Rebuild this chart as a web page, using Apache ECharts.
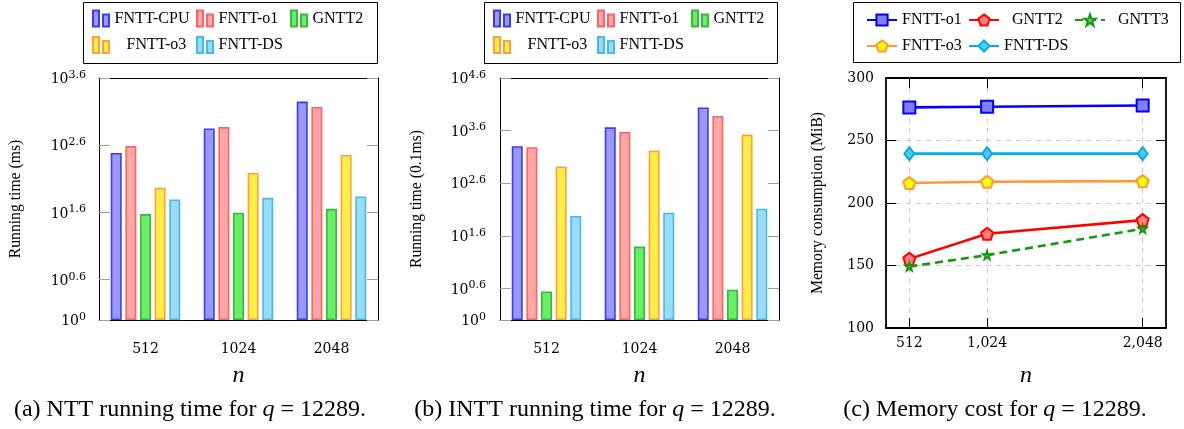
<!DOCTYPE html>
<html><head><meta charset="utf-8">
<script src="https://cdn.jsdelivr.net/npm/echarts@6/dist/echarts.min.js"></script>
<style>html,body{margin:0;padding:0;background:#fff}#c{width:1184px;height:429px}</style>
</head><body><div id="c"></div>
<script>
// ---------- data ----------
const categories = ['512', '1024', '2048'];
const barNames = ['FNTT-CPU', 'FNTT-o1', 'GNTT2', 'FNTT-o3', 'FNTT-DS'];
// (a) NTT running time (ms)
const nttCPU = [305, 706, 1774];
const nttO1 = [387, 740, 1480];
const nttGNTT2 = [37.6, 39.4, 45];
const nttO3 = [92.5, 154, 285];
const nttDS = [62, 65.7, 68.7];
// (b) INTT running time (0.1ms)
const inttCPU = [2006, 4600, 10990];
const inttO1 = [1922, 3758, 7550];
const inttGNTT2 = [3.49, 24.9, 3.76];
const inttO3 = [828, 1663, 3342];
const inttDS = [94.8, 109.7, 130.7];
// (c) Memory consumption (MiB)
const memN = [512, 1024, 2048];
const memO1 = [276.5, 277, 278];
const memGNTT2 = [155.3, 175.4, 186.3];
const memGNTT3 = [149.2, 158.3, 179.4];
const memO3 = [216, 217, 217.5];
const memDS = [239.5, 239.5, 239.5];
// tick labels
const nttTickExps = [0, 0.6, 1.6, 2.6, 3.6];
const inttTickExps = [0, 0.6, 1.6, 2.6, 3.6, 4.6];
const memXTicks = [512, 1024, 2048];

// ---------- styles ----------
const barStyles = [
  {fill: '#9999ff', border: '#3a3aff'},
  {fill: '#ffa6a6', border: '#ff6464'},
  {fill: '#66f066', border: '#3cb83c'},
  {fill: '#ffee44', border: '#ffa040'},
  {fill: '#9adcf6', border: '#44bbee'}
];
const SERIF = 'Liberation Serif';
const TICKF = 'DejaVu Serif';
const TICKSIZE = 14;
const pentagon = 'path://M0,-10L9.511,-3.09L5.878,8.09L-5.878,8.09L-9.511,-3.09Z';
const star = 'path://M0,-10L2.351,-3.236L9.511,-3.09L3.804,1.236L5.878,8.09L0,4L-5.878,8.09L-3.804,1.236L-9.511,-3.09L-2.351,-3.236Z';
const barIcon = 'path://M0,0H6V16H0ZM10,4H16V16H10Z';

const grids = [
  {left: 99, top: 78, width: 279, height: 242},
  {left: 500, top: 78, width: 279, height: 242},
  {left: 886, top: 78, width: 280, height: 250}
];

function supLabel(v) {
  const e = Math.round(Math.log10(v) * 10) / 10;
  return '{b|10}{s|' + e + '}';
}
const supRich = {
  b: {fontFamily: TICKF, fontSize: TICKSIZE, color: '#000', verticalAlign: 'bottom'},
  s: {fontFamily: TICKF, fontSize: 11, color: '#000', verticalAlign: 'bottom', padding: [0, 0, 6, 0]}
};

function logAxis(gi, exps, position, show, name, margin) {
  const last = exps.length - 1;
  const axisMax = Math.pow(10, exps[last]);
  // keep the top tick value a hair inside the extent so it is not dropped by rounding
  const vals = exps.map((e, i) => i === last ? axisMax * (1 - 1e-9) : Math.pow(10, e));
  return {
    type: 'log', logBase: 10, gridIndex: gi, position,
    min: 1, max: axisMax,
    axisLine: {show: true, lineStyle: {color: '#000', width: 1}},
    axisTick: {show: true, inside: true, length: 11, customValues: vals, lineStyle: {color: '#a0a0a0', width: 1}},
    axisLabel: {show: show, customValues: vals, margin: margin, formatter: supLabel, rich: supRich,
      showMaxLabel: true, showMinLabel: true, hideOverlap: false},
    splitLine: {show: false}, minorTick: {show: false}, minorSplitLine: {show: false},
    name: show ? name : '', nameLocation: 'middle', nameGap: 75,
    nameTextStyle: {fontFamily: SERIF, fontSize: 15.7, color: '#000'}
  };
}
function catAxis(gi, position, show) {
  return {
    type: 'category', data: categories, gridIndex: gi, position,
    axisLine: {lineStyle: {color: '#000', width: 1}},
    axisTick: {alignWithLabel: true, length: 11, lineStyle: {color: '#a0a0a0', width: 1}},
    axisLabel: {show: show, margin: 22, fontFamily: TICKF, fontSize: TICKSIZE, color: '#000'},
    name: show ? 'n' : '', nameLocation: 'middle', nameGap: 44,
    nameTextStyle: {fontFamily: SERIF, fontStyle: 'italic', fontSize: 24, color: '#000'}
  };
}

const nttData = [nttCPU, nttO1, nttGNTT2, nttO3, nttDS];
const inttData = [inttCPU, inttO1, inttGNTT2, inttO3, inttDS];
const series = [];
function addBars(dataList, xi, yi, suffix) {
  dataList.forEach((d, i) => {
    series.push({
      type: 'bar', name: barNames[i] + suffix, xAxisIndex: xi, yAxisIndex: yi, data: d,
      barWidth: 11, barGap: '33%',
      itemStyle: {color: barStyles[i].fill, borderColor: barStyles[i].border, borderWidth: 1.6}
    });
  });
}
addBars(nttData, 0, 0, '');
addBars(inttData, 2, 2, '\u200b');

const S2 = '\u200b\u200b';
function lineSeries(name, data, color, fill, symbol, size, dashed) {
  return {
    type: 'line', name: name + S2, xAxisIndex: 4, yAxisIndex: 4,
    data: memN.map((n, i) => [n, data[i]]),
    symbol, symbolSize: size, showSymbol: true,
    lineStyle: {color, width: 2.6, type: dashed ? [8, 5] : 'solid'},
    itemStyle: {color: fill, borderColor: color, borderWidth: 2}
  };
}
series.push(lineSeries('FNTT-o1', memO1, '#0000ff', '#8080ff', 'rect', 12, false));
series.push(lineSeries('GNTT2', memGNTT2, '#ff0000', '#ff8080', pentagon, 12, false));
series.push(lineSeries('GNTT3', memGNTT3, '#119911', '#55dd55', star, 8, true));
series.push(lineSeries('FNTT-o3', memO3, '#ff9933', '#ffff00', pentagon, 12, false));
series.push(lineSeries('FNTT-DS', memDS, '#00aeef', '#55c8f0', 'diamond', [10, 13], false));

function leg(name, left, top, extra) {
  return Object.assign({
    data: [name], left, top, orient: 'horizontal', padding: 0, itemGap: 0,
    selectedMode: false, itemWidth: 17, itemHeight: 16, icon: barIcon,
    textStyle: {fontFamily: SERIF, fontSize: 16, color: '#000'},
    formatter: n => n.replace(/\u200b/g, '')
  }, extra || {});
}
const legends = [];
[0, 401].forEach((dx, k) => {
  const sfx = k === 0 ? '' : '\u200b';
  legends.push(leg('FNTT-CPU' + sfx, 92 + dx, 9.5));
  legends.push(leg('FNTT-o1' + sfx, 196 + dx, 9.5));
  legends.push(leg('GNTT2' + sfx, 290 + dx, 9.5));
  legends.push(leg('FNTT-o3' + sfx, 92 + dx, 36, {formatter: n => '   ' + n.replace(/\u200b/g, '')}));
  legends.push(leg('FNTT-DS' + sfx, 196 + dx, 36));
});
const lineLeg = {itemWidth: 30, itemHeight: 14, icon: undefined};
legends.push(leg('FNTT-o1' + S2, 866, 12, lineLeg));
legends.push(leg('GNTT2' + S2, 968, 12, Object.assign({}, lineLeg, {formatter: n => '  ' + n.replace(/\u200b/g, '')})));
legends.push(leg('GNTT3' + S2, 1074, 12, Object.assign({}, lineLeg, {formatter: n => '  ' + n.replace(/\u200b/g, '')})));
legends.push(leg('FNTT-o3' + S2, 866, 38, lineLeg));
legends.push(leg('FNTT-DS' + S2, 968, 38, lineLeg));
legends.forEach(l => { if (l.icon === undefined) delete l.icon; });

const xAxes = [
  catAxis(0, 'bottom', true), catAxis(0, 'top', false),
  catAxis(1, 'bottom', true), catAxis(1, 'top', false),
  {
    type: 'value', gridIndex: 2, position: 'bottom', min: 358.4, max: 2201.6,
    axisLine: {lineStyle: {color: '#000', width: 1.8}},
    axisTick: {inside: true, length: 10, customValues: memXTicks, lineStyle: {color: '#000', width: 1}},
    axisLabel: {customValues: memXTicks, margin: 8, fontFamily: TICKF, fontSize: TICKSIZE, color: '#000',
      formatter: v => v.toLocaleString('en-US')},
    splitLine: {show: true, lineStyle: {color: '#cccccc', width: 1, type: [5, 5]}},
    name: 'n', nameLocation: 'middle', nameGap: 36,
    nameTextStyle: {fontFamily: SERIF, fontStyle: 'italic', fontSize: 24, color: '#000'}
  },
  {
    type: 'value', gridIndex: 2, position: 'top', min: 358.4, max: 2201.6,
    axisLine: {lineStyle: {color: '#000', width: 1.8}},
    axisTick: {inside: true, length: 10, customValues: memXTicks, lineStyle: {color: '#000', width: 1}},
    axisLabel: {show: false}, splitLine: {show: false}
  }
];
const yAxes = [
  logAxis(0, nttTickExps, 'left', true, 'Running time (ms)', 13),
  logAxis(0, nttTickExps, 'right', false, '', 13),
  logAxis(1, inttTickExps, 'left', true, 'Running time (0.1ms)', 14),
  logAxis(1, inttTickExps, 'right', false, '', 14),
  {
    type: 'value', gridIndex: 2, position: 'left', min: 100, max: 300, interval: 50,
    axisLine: {show: true, lineStyle: {color: '#000', width: 1.8}},
    axisTick: {show: true, inside: true, length: 10, lineStyle: {color: '#000', width: 1}},
    axisLabel: {margin: 12, fontFamily: TICKF, fontSize: TICKSIZE, color: '#000'},
    splitLine: {show: true, lineStyle: {color: '#cccccc', width: 1, type: [5, 5]}},
    name: 'Memory consumption (MiB)', nameLocation: 'middle', nameGap: 60,
    nameTextStyle: {fontFamily: SERIF, fontSize: 15.7, color: '#000'}
  },
  {
    type: 'value', gridIndex: 2, position: 'right', min: 100, max: 300, interval: 50,
    axisLine: {show: true, lineStyle: {color: '#000', width: 1.8}},
    axisTick: {show: true, inside: true, length: 10, lineStyle: {color: '#000', width: 1}},
    axisLabel: {show: false}, splitLine: {show: false}
  }
];

const capRich = {
  i: {fontFamily: SERIF, fontStyle: 'italic', fontSize: 24, fill: '#000'}
};
function caption(text, x) {
  return {
    type: 'text', x: x, y: 410,
    style: {text, fill: '#000', font: '24px "Liberation Serif"', align: 'center', verticalAlign: 'middle', rich: capRich}
  };
}
const graphics = [
  {type: 'rect', shape: {x: 83.5, y: 2.5, width: 294, height: 61}, style: {fill: 'none', stroke: '#000', lineWidth: 1}},
  {type: 'rect', shape: {x: 484.5, y: 2.5, width: 293, height: 61}, style: {fill: 'none', stroke: '#000', lineWidth: 1}},
  {type: 'rect', shape: {x: 853.5, y: 2.5, width: 327, height: 60}, style: {fill: 'none', stroke: '#000', lineWidth: 1}},
  caption('(a) NTT running time for {i|q} = 12289.', 190),
  caption('(b) INTT running time for {i|q} = 12289.', 595),
  caption('(c) Memory cost for {i|q} = 12289.', 995)
];

const chart = echarts.init(document.getElementById('c'), null, {renderer: 'canvas'});
chart.setOption({
  animation: false,
  backgroundColor: '#fff',
  grid: grids,
  xAxis: xAxes,
  yAxis: yAxes,
  legend: legends,
  series: series,
  graphic: graphics
});
</script>
</body></html>
